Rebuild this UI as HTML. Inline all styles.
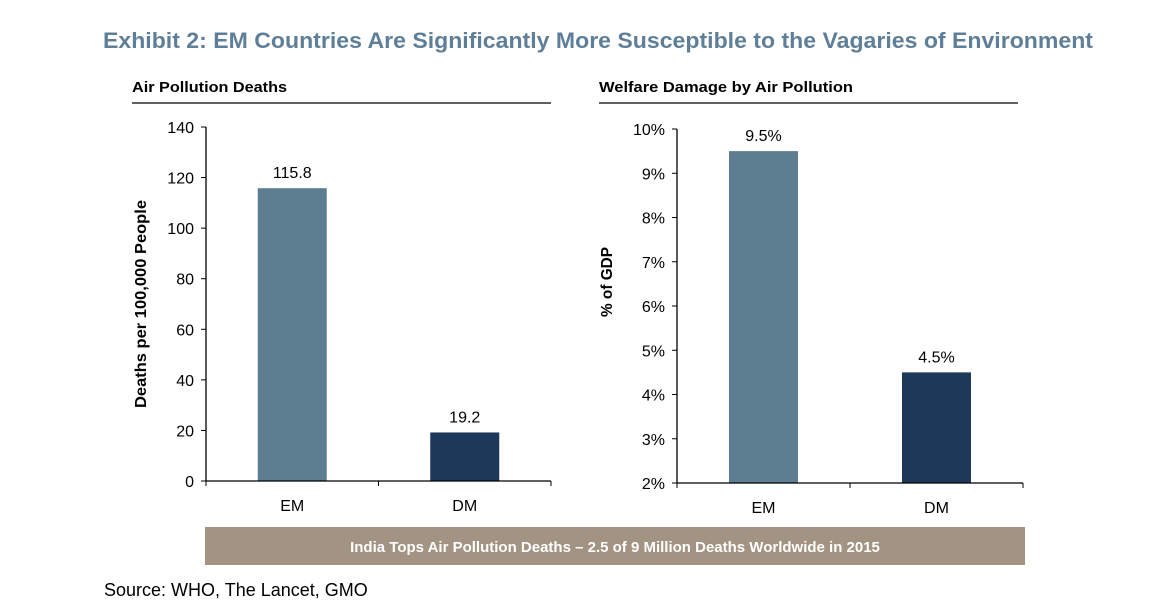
<!DOCTYPE html>
<html><head><meta charset="utf-8"><style>
body{margin:0;background:#fff;width:1154px;height:608px;overflow:hidden}
svg{display:block;font-family:"Liberation Sans",sans-serif}
</style></head><body>
<svg id="c" width="1154" height="608">
<text x="103" y="48" font-size="22" font-weight="bold" fill="#5f7f99" textLength="990" lengthAdjust="spacingAndGlyphs">Exhibit 2: EM Countries Are Significantly More Susceptible to the Vagaries of Environment</text>
<text x="132" y="92" font-size="15" font-weight="bold" fill="#000" textLength="155" lengthAdjust="spacingAndGlyphs">Air Pollution Deaths</text>
<line x1="132" y1="103" x2="551" y2="103" stroke="#000" stroke-width="1.3"/>
<text x="599" y="92" font-size="15" font-weight="bold" fill="#000" textLength="254" lengthAdjust="spacingAndGlyphs">Welfare Damage by Air Pollution</text>
<line x1="599" y1="103" x2="1018" y2="103" stroke="#000" stroke-width="1.3"/>
<rect x="205" y="527" width="820" height="38" fill="#a39382"/>
<text x="615" y="552" font-size="15" font-weight="bold" fill="#fff" text-anchor="middle">India Tops Air Pollution Deaths – 2.5 of 9 Million Deaths Worldwide in 2015</text>
<text x="104" y="596" font-size="18" fill="#000">Source: WHO, The Lancet, GMO</text>
<g id="left"></g><g id="right"></g>
</svg>
<script>
const categories=["EM","DM"];
const deathsValues=[115.8,19.2];
const deathsLabels=["115.8","19.2"];
const deathsTicks=[0,20,40,60,80,100,120,140];
const gdpValues=[9.5,4.5];
const gdpLabels=["9.5%","4.5%"];
const gdpTicks=[2,3,4,5,6,7,8,9,10];
const colors=["#5d7d91","#1e3859"];
const NS="http://www.w3.org/2000/svg";
function mk(p,t,a,txt){const e=document.createElementNS(NS,t);for(const k in a)e.setAttribute(k,a[k]);if(txt!==undefined)e.textContent=txt;p.appendChild(e);return e;}
function panel(g,cfg){
 const {x0,x1,yTop,yBot,min,max,ticks,vals,labels,fmt,title,tx,ty,tlen}=cfg;
 const y=v=>yBot-(v-min)/(max-min)*(yBot-yTop);
 const bw=(x1-x0)/categories.length;
 categories.forEach((c,i)=>{
  const cx=x0+bw*(i+0.5);
  const r=mk(g,'rect',{x:cx-34.5,y:y(vals[i]),width:69,height:yBot-y(vals[i]),fill:colors[i]});
  
  
  const l=mk(g,'text',{x:cx,y:y(vals[i])-10,'font-size':16,'text-anchor':'middle',fill:'#000'},labels[i]);
  
  
  const cl=mk(g,'text',{x:cx,y:yBot+30,'font-size':16,'text-anchor':'middle',fill:'#000'},c);
  
  
 });
 ticks.forEach(t=>{
  mk(g,'line',{x1:x0-5,x2:x0,y1:y(t),y2:y(t),stroke:'#000'});
  const tl=mk(g,'text',{x:x0-12,y:y(t)+6,'font-size':16,'text-anchor':'end',fill:'#000'},fmt(t));
  
  
 });
 const ya=mk(g,'line',{x1:x0,x2:x0,y1:yTop,y2:yBot,stroke:'#000','stroke-width':1.3});
 
 
 const xa=mk(g,'line',{x1:x0,x2:x1,y1:yBot,y2:yBot,stroke:'#000','stroke-width':1.3});
 
 
 [0,1,2].forEach(i=>mk(g,'line',{x1:x0+bw*i,x2:x0+bw*i,y1:yBot,y2:yBot+5,stroke:'#000'}));
 const at=mk(g,'text',{x:tx,y:ty,'font-size':16,'font-weight':'bold','text-anchor':'middle',transform:`rotate(-90 ${tx} ${ty})`,fill:'#000',textLength:tlen,lengthAdjust:'spacingAndGlyphs'},title);
 
 
}
panel(document.getElementById('left'),{x0:206,x1:551,yTop:127,yBot:481,min:0,max:140,ticks:deathsTicks,vals:deathsValues,labels:deathsLabels,fmt:t=>String(t),title:"Deaths per 100,000 People",tx:146,ty:304,tlen:208});
panel(document.getElementById('right'),{x0:677,x1:1023,yTop:129,yBot:483,min:2,max:10,ticks:gdpTicks,vals:gdpValues,labels:gdpLabels,fmt:t=>t+"%",title:"% of GDP",tx:612,ty:282,tlen:70});
</script>
</body></html>
